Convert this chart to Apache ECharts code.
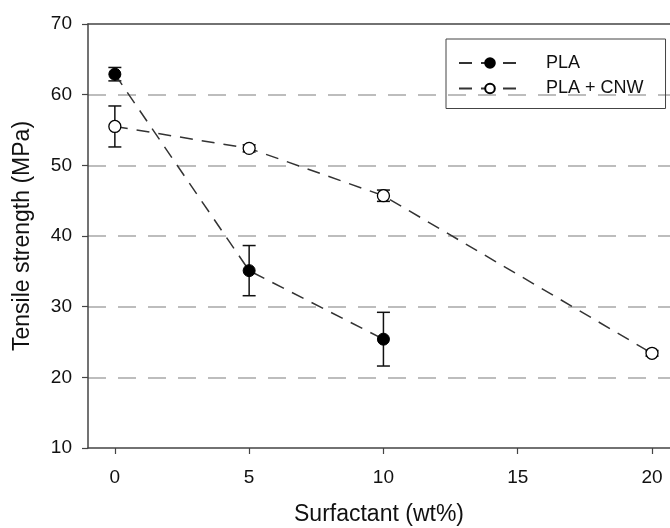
<!DOCTYPE html>
<html>
<head>
<meta charset="utf-8">
<script src="https://cdn.jsdelivr.net/npm/echarts@6/dist/echarts.min.js"></script>
<style>html,body{margin:0;padding:0;background:#fff}#c{width:670px;height:528px}</style>
</head>
<body>
<div id="c"></div>
<script>
// ---- data ----
var xTicks = [0, 5, 10, 15, 20];
var yTicks = [10, 20, 30, 40, 50, 60, 70];
var plaX = [0, 5, 10];
var plaY = [62.9, 35.1, 25.4];
var plaErr = [0.95, 3.55, 3.8];
var cnwX = [0, 5, 10, 20];
var cnwY = [55.5, 52.4, 45.7, 23.4];
var cnwErr = [2.9, 0.5, 0.8, 0.4];
var seriesNames = ['PLA', 'PLA + CNW'];
var xTitle = 'Surfactant (wt%)';
var yTitle = 'Tensile strength (MPa)';

function pairs(xs, ys) { return xs.map(function (x, i) { return [x, ys[i]]; }); }
function errData(xs, ys, es) { return xs.map(function (x, i) { return [x, ys[i] - es[i], ys[i] + es[i]]; }); }

var FONT = '"Liberation Sans", Arial, sans-serif';
var chart = echarts.init(document.getElementById('c'), null, { renderer: 'canvas' });

function errRender(params, api) {
  var x = api.value(0);
  var lo = api.coord([x, api.value(1)]);
  var hi = api.coord([x, api.value(2)]);
  var w = 6.5;
  var st = { stroke: '#111', lineWidth: 1.5 };
  return {
    type: 'group',
    children: [
      { type: 'line', shape: { x1: lo[0], y1: lo[1], x2: hi[0], y2: hi[1] }, style: st },
      { type: 'line', shape: { x1: lo[0] - w, y1: lo[1], x2: lo[0] + w, y2: lo[1] }, style: st },
      { type: 'line', shape: { x1: hi[0] - w, y1: hi[1], x2: hi[0] + w, y2: hi[1] }, style: st }
    ]
  };
}

var option = {
  backgroundColor: '#fff',
  animation: false,
  textStyle: { fontFamily: FONT },
  grid: { left: 88, right: 0, top: 24, bottom: 80, containLabel: false, outerBoundsMode: 'none' },
  legend: {
    left: 446, top: 39,
    orient: 'vertical',
    data: seriesNames,
    borderColor: '#444', borderWidth: 1,
    padding: [15, 22, 11, 12],
    itemWidth: 62, itemHeight: 12, itemGap: 7.5,
    textStyle: { fontSize: 18, color: '#111', fontFamily: FONT, padding: [0, 0, 0, 20] }
  },
  xAxis: [{
    type: 'value', min: -1, max: 20.67,
    name: xTitle, nameLocation: 'middle', nameGap: 55,
    nameTextStyle: { fontSize: 23, color: '#111', fontFamily: FONT },
    axisLine: { show: true, onZero: false, lineStyle: { color: '#444', width: 1.5 } },
    axisTick: { show: true, inside: false, length: 6, customValues: xTicks, lineStyle: { color: '#444', width: 1.2 } },
    axisLabel: { customValues: xTicks, margin: 20, fontSize: 19, color: '#111', fontFamily: FONT },
    splitLine: { show: false }
  }, {
    type: 'value', min: -1, max: 20.67, position: 'top',
    axisLine: { show: true, onZero: false, lineStyle: { color: '#444', width: 1.5 } },
    axisTick: { show: false }, axisLabel: { show: false }, splitLine: { show: false }
  }],
  yAxis: {
    type: 'value', min: 10, max: 70, interval: 10,
    name: yTitle, nameLocation: 'middle', nameGap: 54,
    nameTextStyle: { fontSize: 23, color: '#111', fontFamily: FONT },
    axisLine: { show: true, onZero: false, lineStyle: { color: '#444', width: 1.5 } },
    axisTick: { show: true, inside: false, length: 6, lineStyle: { color: '#444', width: 1.2 } },
    axisLabel: { margin: 16, fontSize: 19, color: '#111', fontFamily: FONT, formatter: function (v) { return yTicks.indexOf(v) >= 0 ? String(v) : ''; } },
    splitLine: {
      show: true,
      lineStyle: { color: '#bdbdbd', width: 1.8, type: [18, 12] },
      showMinLine: false, showMaxLine: false
    }
  },
  series: [
    {
      name: 'PLA-err', type: 'custom', z: 1, renderItem: errRender,
      data: errData(plaX, plaY, plaErr), silent: true
    },
    {
      name: 'PLA+CNW-err', type: 'custom', z: 1, renderItem: errRender,
      data: errData(cnwX, cnwY, cnwErr), silent: true
    },
    {
      name: seriesNames[0], type: 'line', z: 3,
      data: pairs(plaX, plaY),
      symbol: 'circle', symbolSize: 12,
      itemStyle: { color: '#000', borderColor: '#000', borderWidth: 1 },
      lineStyle: { color: '#333', width: 1.5, type: [13, 9] }
    },
    {
      name: seriesNames[1], type: 'line', z: 3,
      data: pairs(cnwX, cnwY),
      symbol: 'circle', symbolSize: 12,
      itemStyle: { color: '#fff', borderColor: '#000', borderWidth: 1.3 },
      lineStyle: { color: '#333', width: 1.5, type: [13, 9] }
    }
  ]
};
chart.setOption(option);
</script>
</body>
</html>
